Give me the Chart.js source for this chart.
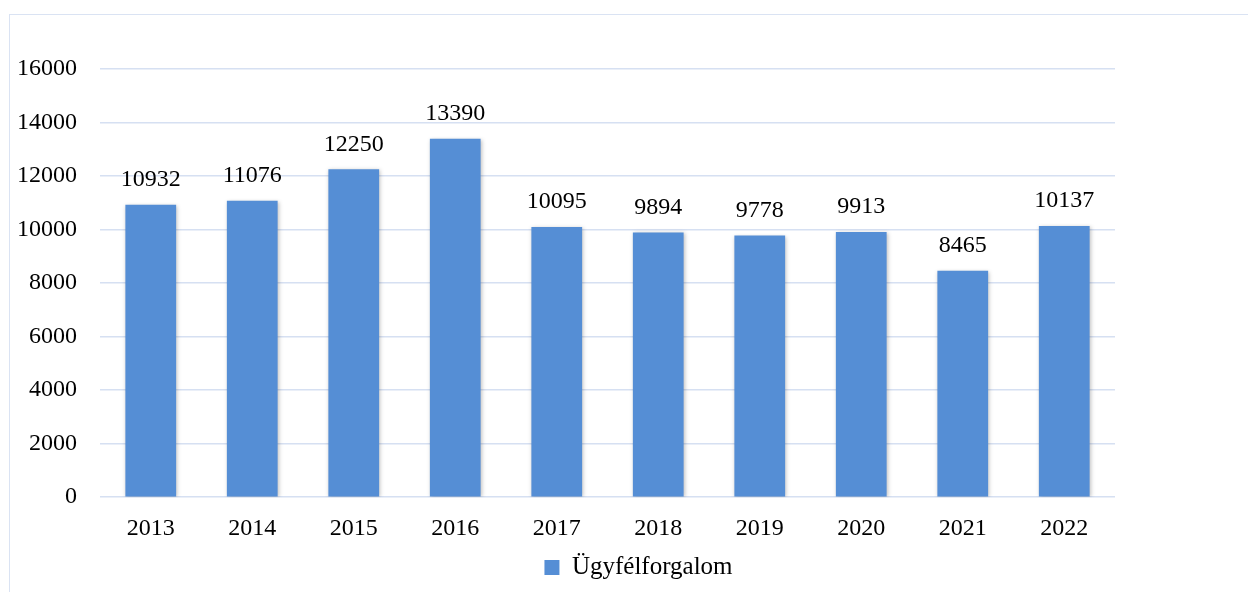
<!DOCTYPE html>
<html>
<head>
<meta charset="utf-8">
<script src="https://cdn.jsdelivr.net/npm/chart.js@4.4.0/dist/chart.umd.min.js"></script>
<style>
  html, body { margin: 0; padding: 0; background: #fff; overflow: hidden; }
  #frame { position: absolute; left: 9px; top: 14px; width: 1400px; height: 700px; border: 1.5px solid #dae3f3; }
  #wrap { position: absolute; left: 0; top: 0; width: 1248px; height: 592px; }
</style>
</head>
<body>
<div id="frame"></div>
<div id="wrap"><canvas id="chart"></canvas></div>
<script>
// data
const years = ['2013', '2014', '2015', '2016', '2017', '2018', '2019', '2020', '2021', '2022']
const clients = [10932, 11076, 12250, 13390, 10095, 9894, 9778, 9913, 8465, 10137]
const seriesName = 'Ügyfélforgalom'

const FONT = "'Liberation Serif', 'DejaVu Serif', serif"

// value labels above the bars
const valueLabels = {
    id: 'valueLabels',
    afterDatasetsDraw(chart) {
        const ctx = chart.ctx
        const meta = chart.getDatasetMeta(0)
        ctx.save()
        ctx.font = '24px ' + FONT
        ctx.fillStyle = '#000'
        ctx.textAlign = 'center'
        ctx.textBaseline = 'middle'
        meta.data.forEach((bar, i) => {
            ctx.fillText(String(clients[i]), bar.x, bar.y - 25)
        })
        ctx.restore()
    }
}

// soft shadow like the office chart
const barShadow = {
    id: 'barShadow',
    beforeDatasetsDraw(chart) {
        const ctx = chart.ctx
        ctx.save()
        ctx.shadowColor = 'rgba(0,0,0,0.25)'
        ctx.shadowBlur = 4
        ctx.shadowOffsetX = 1
        ctx.shadowOffsetY = 1
    },
    afterDatasetsDraw(chart) {
        chart.ctx.restore()
    }
}

// legend sits centred under the whole frame, not just the plot
const legendShift = {
    id: 'legendShift',
    afterLayout(chart) {
        chart.legend.left += 81
        chart.legend.right += 81
    }
}

const ctx = document.getElementById('chart').getContext('2d')
const myChart = new Chart(ctx, {
    type: 'bar',
    data: {
        labels: years,
        datasets: [{
            label: seriesName,
            data: clients,
            backgroundColor: '#558ed5',
            borderWidth: 0,
            categoryPercentage: 1,
            barPercentage: 0.5
        }]
    },
    options: {
        responsive: true,
        maintainAspectRatio: false,
        animation: false,
        layout: { padding: { left: 0, right: 133, top: 69, bottom: 2 } },
        plugins: {
            legend: {
                position: 'bottom',
                labels: {
                    font: { family: FONT, size: 25 },
                    color: '#000',
                    boxWidth: 15,
                    boxHeight: 15,
                    padding: 3
                }
            },
            tooltip: { enabled: false }
        },
        scales: {
            x: {
                grid: { display: false },
                border: { display: false },
                ticks: { font: { family: FONT, size: 24 }, color: '#000', padding: 9 }
            },
            y: {
                min: 0,
                max: 16000,
                ticks: {
                    stepSize: 2000,
                    font: { family: FONT, size: 24 },
                    color: '#000',
                    padding: 23,
                    callback: (v) => String(v)
                },
                grid: { color: '#d6e0f2', lineWidth: 1.5, drawTicks: false },
                border: { display: false },
                afterFit(scale) { scale.width = 100 }
            }
        }
    },
    plugins: [barShadow, valueLabels, legendShift]
})
</script>
</body>
</html>
